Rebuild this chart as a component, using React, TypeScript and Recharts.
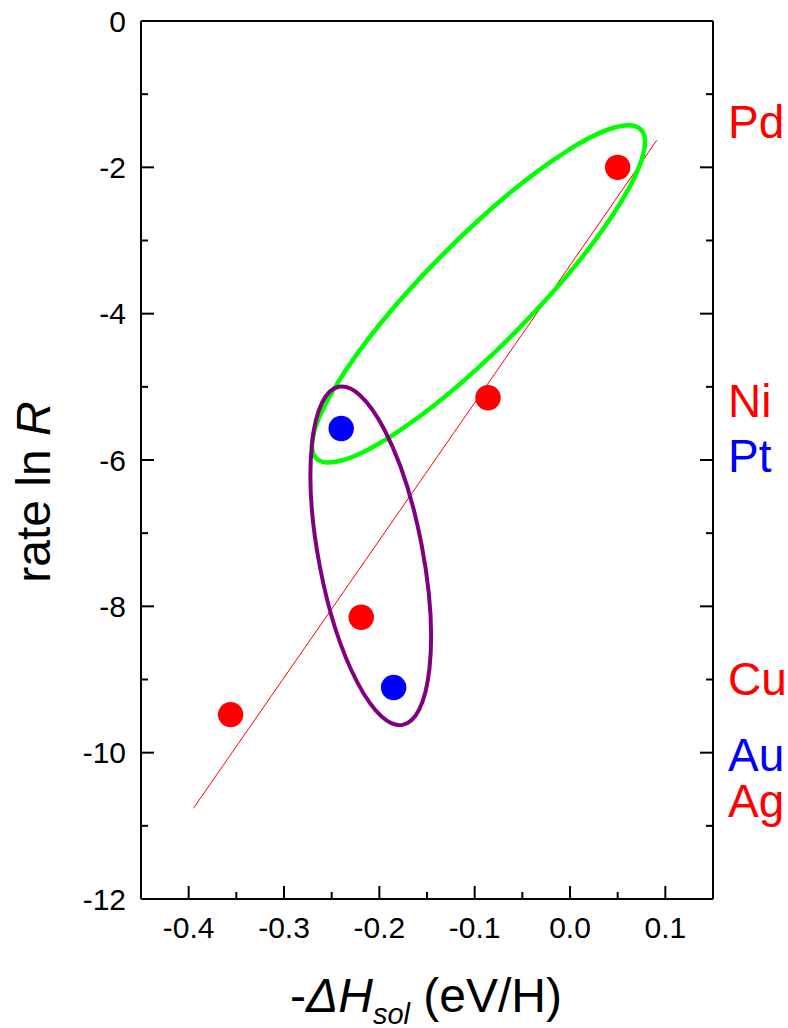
import { ScatterChart, Scatter, XAxis, YAxis, ReferenceLine, ReferenceDot, Customized } from 'recharts'

// -ΔH_sol (eV/H) against rate ln R for each metal
const redNames = ['Pd', 'Ni', 'Cu', 'Ag']
const redDH = [0.05, -0.086, -0.219, -0.356]
const redLnR = [-2.0, -5.15, -8.15, -9.48]

const blueNames = ['Pt', 'Au']
const blueDH = [-0.24, -0.185]
const blueLnR = [-5.57, -9.11]

// straight-line fit through the red set
const fitDH = [-0.395, 0.091]
const fitLnR = [-10.76, -1.63]

// centres of the two grouping ellipses
const groupKeys = ['green', 'purple']
const groupDH = [-0.096, -0.209]
const groupLnR = [-3.73, -7.31]

const xTicks = [-0.4, -0.35, -0.3, -0.25, -0.2, -0.15, -0.1, -0.05, 0, 0.05, 0.1]
const xTickLabels = ['-0.4', '', '-0.3', '', '-0.2', '', '-0.1', '', '0.0', '', '0.1']
const yTicks = [0, -1, -2, -3, -4, -5, -6, -7, -8, -9, -10, -11, -12]
const yTickLabels = ['0', '', '-2', '', '-4', '', '-6', '', '-8', '', '-10', '', '-12']

// element tags printed to the right of the frame
const tagNames = ['Pd', 'Ni', 'Pt', 'Cu', 'Au', 'Ag']
const tagColors = ['#ff0000', '#ff0000', '#0000ff', '#ff0000', '#0000ff', '#ff0000']
const tagBaselines = [138, 417, 472, 695, 771, 817]

const redData = redNames.map((name, i) => ({ name, x: redDH[i], y: redLnR[i] }))
const blueData = blueNames.map((name, i) => ({ name, x: blueDH[i], y: blueLnR[i] }))

const W = 788
const H = 1028
const FONT = '"Liberation Sans", Arial, Helvetica, sans-serif'
const MAJOR = 13
const MINOR = 7
const TICK_FONT = 30

const ellipseStyle: Record<string, { rx: number; ry: number; angle: number; stroke: string; width: number }> = {
  green: { rx: 231, ry: 53, angle: -45.4, stroke: '#00ff00', width: 4.5 },
  purple: { rx: 172, ry: 52, angle: 79.3, stroke: '#800080', width: 4 },
}

const BottomTick = (props: any) => {
  const { x, y, index } = props
  const label = xTickLabels[index]
  return (
    <g>
      <line x1={x} y1={y} x2={x} y2={y - (label ? MAJOR : MINOR)} stroke="#000" strokeWidth={2} />
      {label && (
        <text x={x} y={y + 39} textAnchor="middle" fontSize={TICK_FONT} fontFamily={FONT} fill="#000">
          {label}
        </text>
      )}
    </g>
  )
}

const TopTick = (props: any) => {
  const { x, y, index } = props
  const len = xTickLabels[index] ? MAJOR : MINOR
  return <line x1={x} y1={y} x2={x} y2={y + len} stroke="#000" strokeWidth={2} />
}

const LeftTick = (props: any) => {
  const { x, y, index } = props
  const label = yTickLabels[index]
  return (
    <g>
      <line x1={x} y1={y} x2={x + (label ? MAJOR : MINOR)} y2={y} stroke="#000" strokeWidth={2} />
      {label && (
        <text x={x - 15} y={y} dy="0.36em" textAnchor="end" fontSize={TICK_FONT} fontFamily={FONT} fill="#000">
          {label}
        </text>
      )}
    </g>
  )
}

const RightTick = (props: any) => {
  const { x, y, index } = props
  const len = yTickLabels[index] ? MAJOR : MINOR
  return <line x1={x} y1={y} x2={x - len} y2={y} stroke="#000" strokeWidth={2} />
}

const Dot = (color: string) => (props: any) => <circle cx={props.cx} cy={props.cy} r={12.7} fill={color} />

const groupEllipse = (key: string) => (props: any) => {
  const s = ellipseStyle[key]
  return (
    <ellipse
      cx={props.cx}
      cy={props.cy}
      rx={s.rx}
      ry={s.ry}
      transform={`rotate(${s.angle} ${props.cx} ${props.cy})`}
      fill="none"
      stroke={s.stroke}
      strokeWidth={s.width}
    />
  )
}

const Annotations = () => (
  <g fontFamily={FONT}>
    <text transform="translate(50 492) rotate(-90)" textAnchor="middle" fontSize={48} fill="#000">
      rate ln <tspan fontStyle="italic">R</tspan>
    </text>
    <text x={426} y={1012} textAnchor="middle" fontSize={48} fill="#000">
      -<tspan fontStyle="italic">ΔH</tspan>
      <tspan fontStyle="italic" fontSize={29} dy={12}>sol</tspan>
      <tspan dy={-12}> (eV/H)</tspan>
    </text>
    {tagNames.map((name, i) => (
      <text key={name} x={728} y={tagBaselines[i]} fontSize={46} fill={tagColors[i]}>
        {name}
      </text>
    ))}
  </g>
)

export default function App() {
  return (
    <div style={{ position: 'absolute', left: 0, top: 0, width: W, height: H, background: '#fff' }}>
      <ScatterChart width={W} height={H} margin={{ top: 0, right: 0, bottom: 0, left: 0 }}>
        <XAxis
          xAxisId="b"
          type="number"
          dataKey="x"
          domain={[-0.45, 0.15]}
          ticks={xTicks}
          interval={0}
          height={129}
          tickSize={0}
          tickMargin={0}
          tick={<BottomTick />}
          tickLine={false}
          axisLine={{ stroke: '#000', strokeWidth: 2 }}
          allowDataOverflow
        />
        <XAxis
          xAxisId="t"
          orientation="top"
          type="number"
          domain={[-0.45, 0.15]}
          ticks={xTicks}
          interval={0}
          height={21}
          tickSize={0}
          tickMargin={0}
          tick={<TopTick />}
          tickLine={false}
          axisLine={{ stroke: '#000', strokeWidth: 2 }}
          allowDataOverflow
        />
        <YAxis
          yAxisId="l"
          type="number"
          dataKey="y"
          domain={[-12, 0]}
          ticks={yTicks}
          interval={0}
          width={141}
          tickSize={0}
          tickMargin={0}
          tick={<LeftTick />}
          tickLine={false}
          axisLine={{ stroke: '#000', strokeWidth: 2 }}
          allowDataOverflow
        />
        <YAxis
          yAxisId="r"
          orientation="right"
          type="number"
          domain={[-12, 0]}
          ticks={yTicks}
          interval={0}
          width={75}
          tickSize={0}
          tickMargin={0}
          tick={<RightTick />}
          tickLine={false}
          axisLine={{ stroke: '#000', strokeWidth: 2 }}
          allowDataOverflow
        />
        <ReferenceLine
          xAxisId="b"
          yAxisId="l"
          segment={[
            { x: fitDH[0], y: fitLnR[0] },
            { x: fitDH[1], y: fitLnR[1] },
          ]}
          stroke="#ff0000"
          strokeWidth={1}
        />
        <Scatter xAxisId="b" yAxisId="l" data={redData} shape={Dot('#ff0000')} isAnimationActive={false} />
        <Scatter xAxisId="b" yAxisId="l" data={blueData} shape={Dot('#0000ff')} isAnimationActive={false} />
        {groupKeys.map((key, i) => (
          <ReferenceDot
            key={key}
            xAxisId="b"
            yAxisId="l"
            x={groupDH[i]}
            y={groupLnR[i]}
            r={0}
            shape={groupEllipse(key)}
          />
        ))}
        <Customized component={Annotations} />
      </ScatterChart>
    </div>
  )
}
